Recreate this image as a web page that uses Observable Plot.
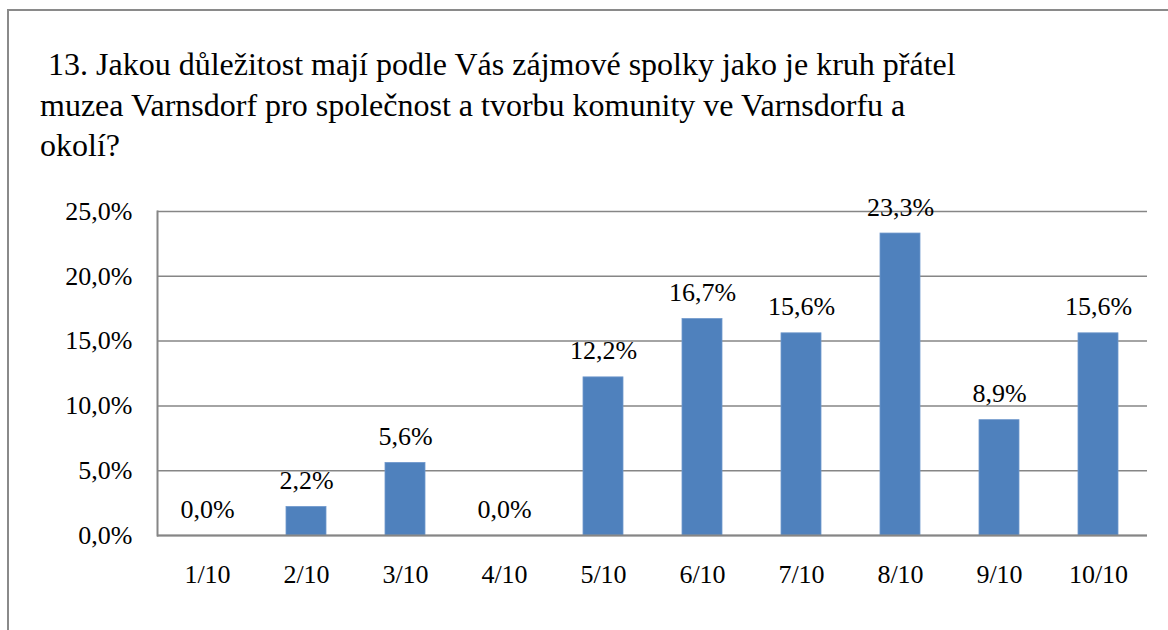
<!DOCTYPE html>
<html>
<head>
<meta charset="utf-8">
<script src="https://cdn.jsdelivr.net/npm/d3@7"></script>
<script src="https://cdn.jsdelivr.net/npm/@observablehq/plot@0.6"></script>
<style>
  html, body { margin: 0; padding: 0; background: #fff; width: 1168px; height: 630px; overflow: hidden; }
  #frame { position: absolute; left: 7px; top: 9px; width: 1300px; height: 800px; border: 2px solid #8a8a8a; box-sizing: border-box; }
  #title { position: absolute; left: 40px; top: 44px; width: 1000px; font-family: "Liberation Serif", Tinos, "Times New Roman", serif; font-size: 32px; line-height: 40.5px; color: #000; white-space: pre; }
  #chart { position: absolute; left: 0; top: 180px; }
</style>
</head>
<body>
<div id="frame"></div>
<div id="title"></div>
<div id="chart"></div>
<script>
const titleLines = [
  " 13. Jakou důležitost mají podle Vás zájmové spolky jako je kruh přátel",
  "muzea Varnsdorf pro společnost a tvorbu komunity ve Varnsdorfu a",
  "okolí?"
];
const categories = ["1/10", "2/10", "3/10", "4/10", "5/10", "6/10", "7/10", "8/10", "9/10", "10/10"];
const values = [0.0, 2.2, 5.6, 0.0, 12.2, 16.7, 15.6, 23.3, 8.9, 15.6];
const yTicks = [0, 5, 10, 15, 20, 25];

document.getElementById("title").textContent = titleLines.join("\n");

const data = categories.map((c, i) => ({cat: c, v: values[i]}));
const fmt = v => v.toFixed(1).replace(".", ",") + "%";
const serif = "'Liberation Serif', Tinos, 'Times New Roman', serif";

const chart = Plot.plot({
  width: 1168,
  height: 420,
  marginLeft: 157,
  marginRight: 21,
  marginTop: 31,
  marginBottom: 65,
  style: { fontFamily: serif, fontSize: "26px", color: "#000", background: "transparent" },
  x: { domain: categories, paddingInner: 0.6, paddingOuter: 0.3, label: null },
  y: { domain: [0, 25], label: null },
  marks: [
    Plot.gridY(yTicks, { stroke: "#868686", strokeOpacity: 1, strokeWidth: 1.5 }),
    Plot.barY(data, { x: "cat", y: "v", fill: "#4F81BD", stroke: "#6f98cc", strokeWidth: 0.8 }),
    Plot.ruleY([0], { stroke: "#868686", strokeWidth: 2 }),
    Plot.frame({ anchor: "left", stroke: "#868686", strokeWidth: 2 }),
    Plot.axisY({ ticks: yTicks, tickSize: 0, tickPadding: 25, tickFormat: fmt, fontSize: 26, fontFamily: serif }),
    Plot.axisX({ tickSize: 0, tickPadding: 29.5, fontSize: 26, fontFamily: serif }),
    Plot.text(data, { x: "cat", y: "v", text: d => fmt(d.v), lineAnchor: "bottom", dy: -18, fontSize: 26, fontFamily: serif, fill: "#000" })
  ]
});
document.getElementById("chart").appendChild(chart);
</script>
</body>
</html>
